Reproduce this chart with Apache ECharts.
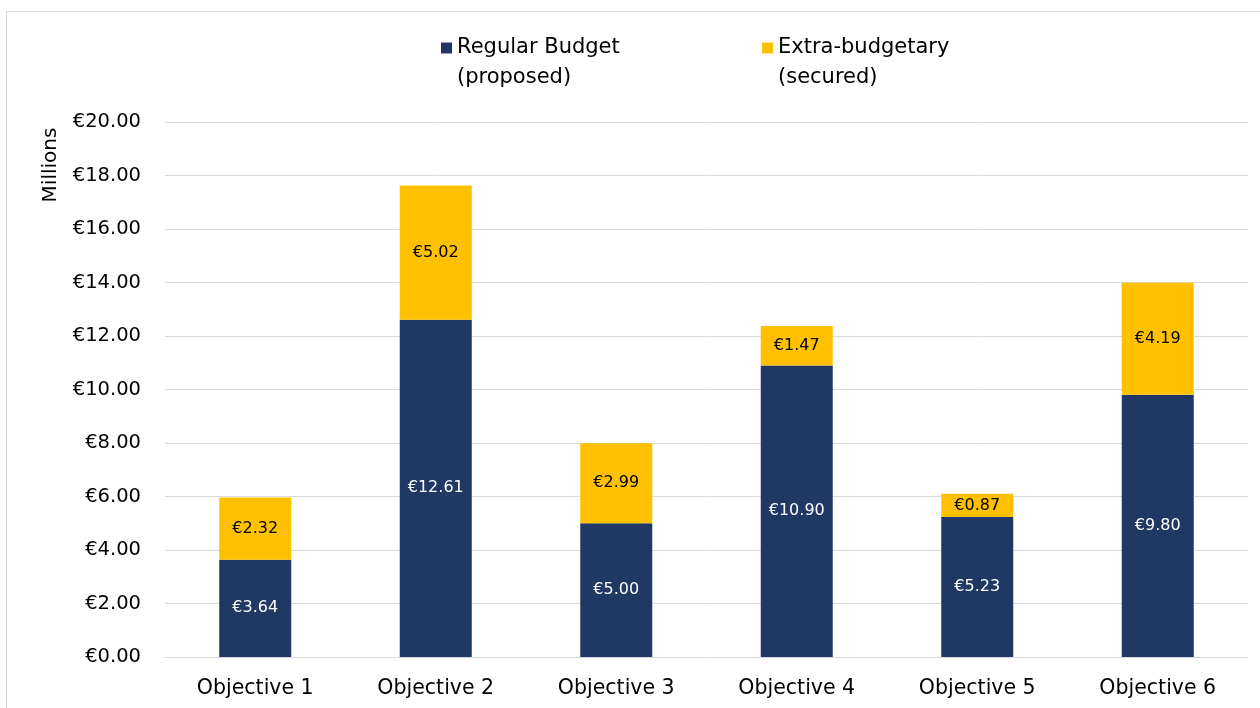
<!DOCTYPE html>
<html>
<head>
<meta charset="utf-8">
<script src="https://cdn.jsdelivr.net/npm/echarts@6/dist/echarts.min.js"></script>
<style>
  html, body { margin: 0; padding: 0; background: #fff; }
  #frame { position: absolute; left: 6px; top: 11px; width: 1300px; height: 760px; border: 1px solid #d9d9d9; }
  #chart { position: absolute; left: 0; top: 0; width: 1260px; height: 708px; }
</style>
</head>
<body>
<div id="frame"></div>
<div id="chart"></div>
<script>
const categories = ['Objective 1', 'Objective 2', 'Objective 3', 'Objective 4', 'Objective 5', 'Objective 6']
const regularBudget = [3.64, 12.61, 5.00, 10.90, 5.23, 9.80]
const extraBudgetary = [2.32, 5.02, 2.99, 1.47, 0.87, 4.19]
const seriesNames = ['Regular Budget\n(proposed)', 'Extra-budgetary\n(secured)']

const font = 'DejaVu Sans'
const euro = v => '€' + v.toFixed(2)
// square sitting on the first line of a two-line legend item
const legendIcon = 'path://M0,8.6h10v10h-10z M0,0L0.001,0 M0,54.5L0.001,54.5'

const legendBase = {
  top: 28,
  itemWidth: 11,
  itemHeight: 60,
  itemGap: 0,
  icon: legendIcon,
  textStyle: { fontFamily: font, fontSize: 21, color: '#000', lineHeight: 30 }
}

const chart = echarts.init(document.getElementById('chart'))

const option = {
  animation: false,
  textStyle: { fontFamily: font },
  grid: { left: 165, right: 12, top: 122, bottom: 51 },
  legend: [
    { ...legendBase, left: 436, data: [seriesNames[0]] },
    { ...legendBase, left: 757, data: [seriesNames[1]] }
  ],
  graphic: [{
    type: 'text',
    x: 51,
    y: 165,
    rotation: Math.PI / 2,
    style: { text: 'Millions', fontFamily: font, fontSize: 20, fill: '#000', align: 'center', verticalAlign: 'middle' }
  }],
  xAxis: {
    type: 'category',
    data: categories,
    axisTick: { show: false },
    axisLine: { lineStyle: { color: '#d9d9d9' } },
    axisLabel: { color: '#000', fontSize: 20.5, margin: 21 }
  },
  yAxis: {
    type: 'value',
    min: 0,
    max: 20,
    interval: 2,
    axisLabel: { color: '#000', fontSize: 19.5, margin: 24, formatter: v => euro(v) },
    splitLine: { lineStyle: { color: '#d9d9d9' } }
  },
  series: [
    {
      name: seriesNames[0],
      type: 'bar',
      stack: 'total',
      barWidth: 72,
      data: regularBudget,
      itemStyle: { color: '#203864' },
      label: { show: true, position: 'inside', color: '#fff', fontSize: 16, formatter: p => euro(p.value) }
    },
    {
      name: seriesNames[1],
      type: 'bar',
      stack: 'total',
      barWidth: 72,
      data: extraBudgetary,
      itemStyle: { color: '#ffc000' },
      label: { show: true, position: 'inside', color: '#000', fontSize: 16, formatter: p => euro(p.value) }
    }
  ]
}

chart.setOption(option)
</script>
</body>
</html>
